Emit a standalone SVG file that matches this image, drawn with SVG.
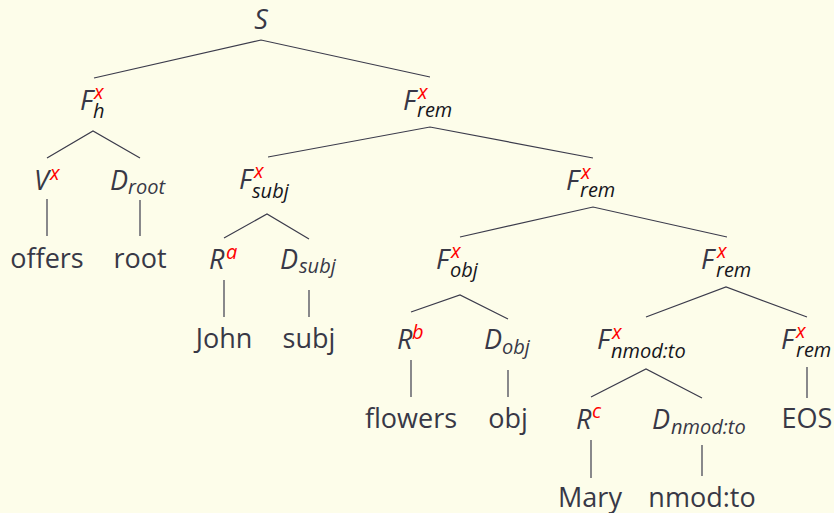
<svg xmlns="http://www.w3.org/2000/svg" width="834" height="513" viewBox="0 0 834 513">
<style>
.bg{fill:#fdfdea}
.m{font-family:"Open Sans","Noto Sans",sans-serif;font-style:italic;font-size:27px;font-weight:500;fill:#383846}
.sup{font-family:"Open Sans","Noto Sans",sans-serif;font-style:italic;font-size:20px;font-weight:500;fill:#ff0000}
.fs{font-family:"Open Sans","Noto Sans",sans-serif;font-style:italic;font-size:20px;font-weight:500;fill:#16161c}
.ds{font-family:"Open Sans","Noto Sans",sans-serif;font-style:italic;font-size:20px;font-weight:500;fill:#383846}
.w{font-family:"Open Sans","Noto Sans",sans-serif;font-size:27px;font-weight:500;fill:#383846;text-anchor:middle}
.e{fill:none;stroke:#3b3b4b;stroke-width:1.2}
</style>
<rect class="bg" x="0" y="0" width="834" height="513"/>
<g id="connectors">
<polyline class="e" points="94,78 261,40 430,77"/>
<polyline class="e" points="47,158 93,131 140,158"/>
<polyline class="e" points="268,157 430,127 593,158"/>
<line class="e" x1="47" y1="199" x2="47" y2="236"/>
<line class="e" x1="140" y1="200" x2="140" y2="236"/>
<polyline class="e" points="224,238 267,214 309,239"/>
<polyline class="e" points="460,237 593,207 727,237"/>
<line class="e" x1="224" y1="280" x2="224" y2="317"/>
<line class="e" x1="309" y1="290" x2="309" y2="317"/>
<polyline class="e" points="411,312 460,295 508,319"/>
<polyline class="e" points="646,317 726,287 807,317"/>
<line class="e" x1="411" y1="360" x2="411" y2="397"/>
<line class="e" x1="508" y1="370" x2="508" y2="397"/>
<polyline class="e" points="591,397 646,369 702,398"/>
<line class="e" x1="807" y1="367" x2="807" y2="398"/>
<line class="e" x1="591" y1="440" x2="591" y2="478"/>
<line class="e" x1="702" y1="445" x2="702" y2="476"/>
</g>
<g id="S"><text class="m" x="261" y="29" text-anchor="middle">S</text></g>
<g id="Fh"><text class="m" x="80" y="110">F</text><text class="sup" x="94" y="99">x</text><text class="fs" x="93" y="118">h</text></g>
<g id="Frem1"><text class="m" x="403" y="110">F</text><text class="sup" x="418" y="99">x</text><text class="fs" x="417" y="117">rem</text></g>
<g id="V"><text class="m" x="34" y="190">V</text><text class="sup" x="50" y="180">x</text></g>
<g id="Droot"><text class="m" x="110" y="190">D</text><text class="ds" x="128" y="194">root</text></g>
<g id="Fsubj"><text class="m" x="239" y="189">F</text><text class="sup" x="254" y="178">x</text><text class="fs" x="252" y="198">subj</text></g>
<g id="Frem2"><text class="m" x="566" y="190">F</text><text class="sup" x="581" y="179">x</text><text class="fs" x="580" y="197">rem</text></g>
<g id="offers"><text class="w" x="47" y="268">offers</text></g>
<g id="root"><text class="w" x="140" y="268">root</text></g>
<g id="Ra"><text class="m" x="209" y="269">R</text><text class="sup" x="226" y="259">a</text></g>
<g id="Dsubj"><text class="m" x="280" y="269">D</text><text class="ds" x="299" y="273">subj</text></g>
<g id="Fobj"><text class="m" x="436" y="269">F</text><text class="sup" x="451" y="258">x</text><text class="fs" x="450" y="277">obj</text></g>
<g id="Frem3"><text class="m" x="701" y="269">F</text><text class="sup" x="717" y="258">x</text><text class="fs" x="716" y="277">rem</text></g>
<g id="John"><text class="w" x="224" y="348">John</text></g>
<g id="subj"><text class="w" x="309" y="348">subj</text></g>
<g id="Rb"><text class="m" x="397" y="349">R</text><text class="sup" x="412" y="339">b</text></g>
<g id="Dobj"><text class="m" x="484" y="349">D</text><text class="ds" x="502" y="354">obj</text></g>
<g id="Fnmod"><text class="m" x="597" y="349">F</text><text class="sup" x="612" y="339">x</text><text class="fs" x="611" y="358">nmod:to</text></g>
<g id="Frem4"><text class="m" x="781" y="349">F</text><text class="sup" x="796" y="338">x</text><text class="fs" x="796" y="357">rem</text></g>
<g id="flowers"><text class="w" x="411" y="428">flowers</text></g>
<g id="obj"><text class="w" x="508" y="428">obj</text></g>
<g id="Rc"><text class="m" x="576" y="429">R</text><text class="sup" x="592" y="418">c</text></g>
<g id="Dnmod"><text class="m" x="652" y="429">D</text><text class="ds" x="671" y="434">nmod:to</text></g>
<g id="EOS"><text class="w" x="807" y="428">EOS</text></g>
<g id="Mary"><text class="w" x="590" y="507">Mary</text></g>
<g id="nmodto"><text class="w" x="702" y="507">nmod:to</text></g>
</svg>
